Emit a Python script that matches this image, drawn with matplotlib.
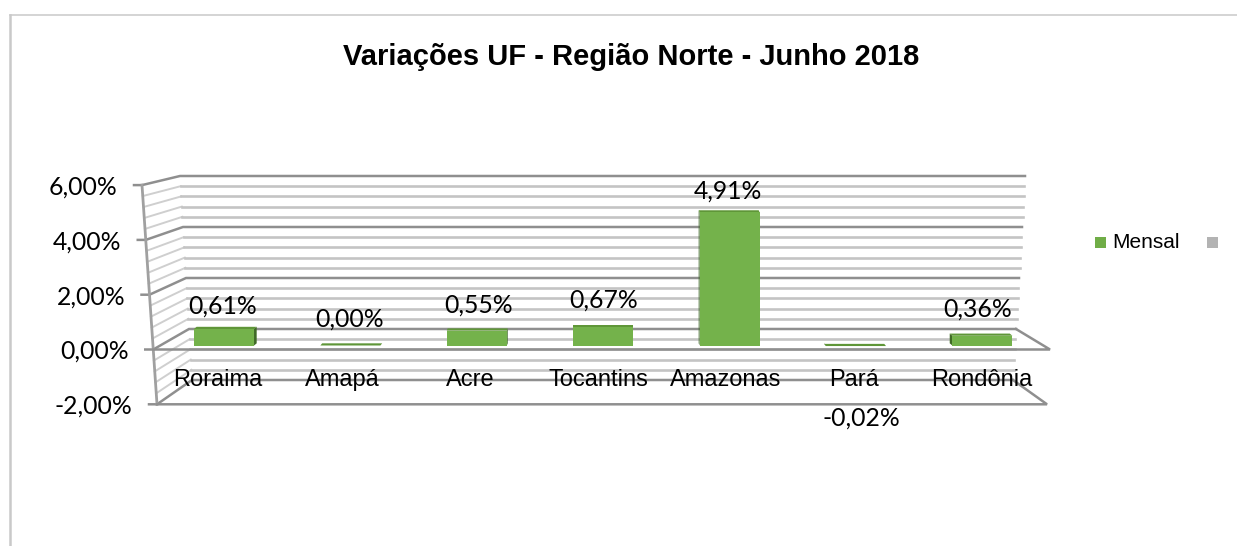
import matplotlib
matplotlib.use('Agg')
from matplotlib import pyplot as plt
from matplotlib.patches import Polygon

categories = ['Roraima', 'Amapá', 'Acre', 'Tocantins', 'Amazonas', 'Pará', 'Rondônia']
values = [0.61, 0.00, 0.55, 0.67, 4.91, -0.02, 0.36]
value_labels = ['0,61%', '0,00%', '0,55%', '0,67%', '4,91%', '-0,02%', '0,36%']
major_ticks = [6, 4, 2, 0, -2]
major_labels = ['6,00%', '4,00%', '2,00%', '0,00%', '-2,00%']
minor_ticks = [5.6, 5.2, 4.8, 4.4, 3.6, 3.2, 2.8, 2.4, 1.6, 1.2, 0.8, 0.4,
               -0.4, -0.8, -1.2, -1.6]
title = 'Variações UF - Região Norte - Junho 2018'

W, H = 1237, 546
plt.rcParams['font.family'] = ['Liberation Sans', 'DejaVu Sans']
label_font = ['Lato', 'DejaVu Sans']

fig = plt.figure(figsize=(W / 100, H / 100), dpi=100)

# eixo de fundo em pixels: paredes da caixa 3D, textos
bg = fig.add_axes([0, 0, 1, 1])
bg.set_xlim(0, W)
bg.set_ylim(H, 0)
bg.axis('off')

# escalas das paredes (frente e fundo)
def front_y(v):
    return 349.5 - 27.4 * v
def back_y(v):
    return 329 - 25.5 * v
def front_x(v):
    return 157 - (v + 2) * 15 / 8
def back_x(v):
    return 192 - (v + 2) * 12 / 8
def back_right(v):
    return 1013 + (v + 2) * 12 / 8

# moldura
bg.plot([10, 10], [546, 15], color='#c9c9c9', lw=1.8)
bg.plot([10, 1237], [15, 15], color='#c9c9c9', lw=1.1)

for v in minor_ticks:
    bg.plot([front_x(v), back_x(v)], [front_y(v), back_y(v)],
            color='#cfcfcf', lw=1.4, zorder=1)
    bg.plot([back_x(v), back_right(v)], [back_y(v), back_y(v)],
            color='#c4c4c4', lw=1.9, zorder=1)
for v in major_ticks:
    bg.plot([front_x(v) - 8, front_x(v), back_x(v), back_right(v)],
            [front_y(v), front_y(v), back_y(v), back_y(v)],
            color='#8f8f8f', lw=1.8, solid_joinstyle='miter', zorder=2)

# eixo vertical frontal
bg.plot([front_x(6), front_x(-2)], [front_y(6), front_y(-2)], color='#a0a0a0', lw=2, zorder=2)
# piso em 0 e em -2
for v in [0, -2]:
    bg.plot([front_x(v), 1050 - (0 - v) * 1.5, back_right(v)],
            [front_y(v), front_y(v), back_y(v)], color='#8f8f8f', lw=1.8,
            solid_joinstyle='miter', zorder=2)

for v, lab in zip(major_ticks, major_labels):
    bg.text(front_x(v) - 24.5, front_y(v) + 9.5, lab, ha='right', va='baseline',
            fontsize=17.8, family=label_font)

# eixo das barras, mesma area, escala propria
first_x, step_x = 224, 126.4
base_y, step_y = 345.5, 27.1
ax = fig.add_axes([0, 0, 1, 1])
ax.patch.set_alpha(0)
ax.axis('off')
ax.set_xlim((0 - first_x) / step_x, (W - first_x) / step_x)
ax.set_ylim((base_y - H) / step_y, base_y / step_y)

x_pos = list(range(len(categories)))
bar_width = 0.475
depth = 0.08
for x, v in zip(x_pos, values):
    shift = (3 - x) * 0.007
    l = x - bar_width / 2
    r = x + bar_width / 2
    # lado visivel
    if shift >= 0:
        side = [(r, 0), (r + shift, depth), (r + shift, v + depth), (r, v)]
    else:
        side = [(l, 0), (l + shift, depth), (l + shift, v + depth), (l, v)]
    ax.add_patch(Polygon(side, closed=True, fc='#3f6a26', ec='none', zorder=3))
    ax.add_patch(Polygon([(l, v), (r, v), (r + shift, v + depth), (l + shift, v + depth)],
                         closed=True, fc='#5f9638', ec='none', zorder=3))
ax.bar(x_pos, values, width=bar_width, color='#74b24b', zorder=4)

cat_x = [218, 342, 470, 598, 726, 854, 982]
for x, c in zip(cat_x, categories):
    bg.text(x, 386, c, ha='center', va='baseline', fontsize=17, zorder=6)

label_x = [223, 350, 479, 604, 728, 861, 978]
label_y = [314, 327, 313, 308, 199, 426, 317]
for x, y, s in zip(label_x, label_y, value_labels):
    ax.text((x - first_x) / step_x, (base_y - y) / step_y, s, ha='center', va='baseline',
            fontsize=17.8, family=label_font, zorder=6)

# titulo e legenda
fig.text(631 / W, 1 - 65 / H, title, ha='center', va='baseline', fontsize=21, fontweight='bold')
bg.add_patch(Polygon([(1095, 237), (1106, 237), (1106, 248), (1095, 248)], fc='#70ad47', ec='none'))
bg.add_patch(Polygon([(1207, 237), (1218, 237), (1218, 248), (1207, 248)], fc='#b3b3b3', ec='none'))
bg.text(1112, 248, 'Mensal', ha='left', va='baseline', fontsize=15)

fig.savefig('out.png', dpi=100)
